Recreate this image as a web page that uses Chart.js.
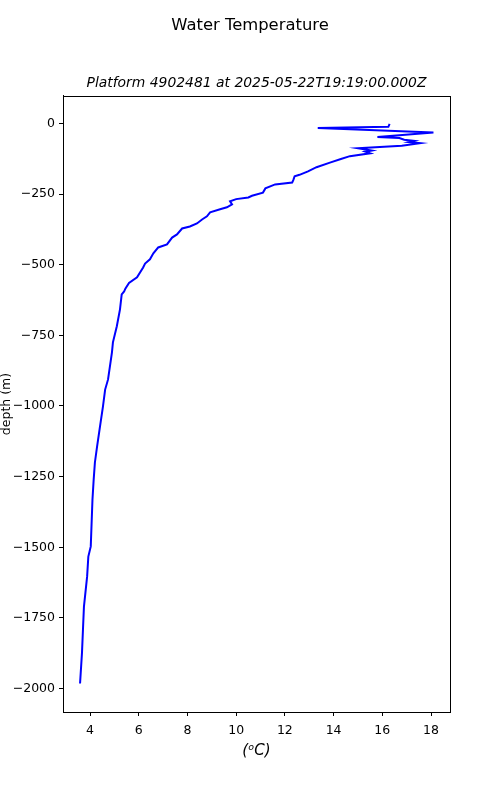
<!DOCTYPE html>
<html>
<head>
<meta charset="utf-8">
<script src="https://cdn.jsdelivr.net/npm/chart.js@4/dist/chart.umd.min.js"></script>
<style>
  body { margin: 0; background: #fff; }
  #wrap { width: 500px; height: 800px; }
</style>
</head>
<body>
<div id="wrap"><canvas id="myChart" width="500" height="800"></canvas></div>
<script>
// profile: temperature (C) vs depth (m)
const temperature = [16.3, 16.25, 13.35, 18.1, 15.8, 16.7, 16.9, 17.3, 17.1, 17.55, 16.8, 15.0, 15.56, 15.3, 15.5,
  14.67, 14.3, 13.85, 13.3, 12.95, 12.6, 12.4, 12.35, 12.3, 11.6, 11.2, 11.1, 10.65, 10.5, 10.0, 9.75, 9.83, 9.62,
  9.34, 8.93, 8.8, 8.6, 8.39, 8.1, 7.78, 7.57, 7.37, 7.16, 6.8, 6.6, 6.46, 6.26, 6.18, 5.93, 5.6, 5.45, 5.4, 5.3,
  5.23, 5.1, 4.94, 4.9, 4.74, 4.62, 4.53, 4.41, 4.29, 4.2, 4.15, 4.1, 4.07, 4.03, 3.93, 3.88, 3.75, 3.71, 3.67, 3.59];
const depth = [-2, -12, -16, -32, -48, -52, -58, -62, -66, -70, -79, -88, -96, -100, -106,
  -116, -126, -139, -155, -170, -182, -187, -200, -209, -216, -230, -245, -256, -262, -268, -276, -287, -297,
  -304, -315, -329, -340, -354, -365, -372, -393, -404, -428, -439, -460, -481, -496, -510, -545, -565, -585, -595, -605,
  -658, -718, -775, -810, -906, -942, -1002, -1072, -1143, -1200, -1260, -1331, -1402, -1497, -1533, -1604, -1710, -1791, -1873, -1982];

const xTicks = [4, 6, 8, 10, 12, 14, 16, 18];
const yTicks = [0, -250, -500, -750, -1000, -1250, -1500, -1750, -2000];

const subtitleText = 'Platform 4902481 at 2025-05-22T19:19:00.000Z';

const FONT = "'DejaVu Sans', sans-serif";

const points = temperature.map((t, i) => ({x: t, y: depth[i]}));

// box round the axes + subtitle centred over the axes
const frame = {
  id: 'frame',
  afterDraw(chart) {
    const {ctx, chartArea: a} = chart;
    ctx.save();
    ctx.strokeStyle = '#000';
    ctx.lineWidth = 1;
    ctx.strokeRect(Math.round(a.left) + 0.5, Math.round(a.top) + 0.5,
      Math.round(a.right - a.left), Math.round(a.bottom - a.top));
    ctx.fillStyle = '#000';
    ctx.font = 'italic 13.9px ' + FONT;
    ctx.textAlign = 'center';
    ctx.textBaseline = 'middle';
    ctx.fillText(subtitleText, (a.left + a.right) / 2, 83);
    ctx.restore();
  }
};

const minus = v => String(v).replace('-', '\u2212');

new Chart(document.getElementById('myChart').getContext('2d'), {
  type: 'scatter',
  data: {
    datasets: [{
      data: points,
      showLine: true,
      borderColor: '#0000ff',
      borderWidth: 2,
      pointRadius: 0,
      tension: 0,
      fill: false
    }]
  },
  options: {
    responsive: false,
    animation: false,
    layout: { padding: 0 },
    plugins: {
      legend: { display: false },
      tooltip: { enabled: false },
      title: {
        display: true,
        text: 'Water Temperature',
        color: '#000',
        font: { family: FONT, size: 16.4, weight: 'normal' },
        padding: { top: 15.6, bottom: 60.7 }
      }
    },
    scales: {
      x: {
        type: 'linear',
        min: 2.89,
        max: 18.78,
        afterBuildTicks: s => { s.ticks = xTicks.map(v => ({value: v})); },
        afterFit: s => { s.height = 88; },
        grid: { drawOnChartArea: false, tickLength: 4, tickColor: '#000' },
        border: { color: '#000' },
        ticks: { color: '#000', font: { family: FONT, size: 12.5 }, padding: 7, maxRotation: 0 },
        title: {
          display: true,
          text: '(\u1d52C)',
          color: '#000',
          font: { family: FONT, size: 15, style: 'italic' },
          padding: { top: 0, bottom: 40 }
        }
      },
      y: {
        type: 'linear',
        min: -2083,
        max: 97,
        afterBuildTicks: s => { s.ticks = yTicks.map(v => ({value: v})); },
        afterFit: s => { s.width = 63; },
        grid: { drawOnChartArea: false, tickLength: 4, tickColor: '#000' },
        border: { color: '#000' },
        ticks: { color: '#000', font: { family: FONT, size: 12.5 }, padding: 4, callback: v => minus(v) },
        title: {
          display: true,
          text: 'depth (m)',
          color: '#000',
          font: { family: FONT, size: 12.5 },
          padding: { top: -1, bottom: 0 }
        }
      },
      yRight: {
        type: 'linear',
        position: 'right',
        display: true,
        afterFit: s => { s.width = 50; },
        grid: { display: false },
        border: { display: false },
        ticks: { display: false }
      }
    }
  },
  plugins: [frame]
});
</script>
</body>
</html>
